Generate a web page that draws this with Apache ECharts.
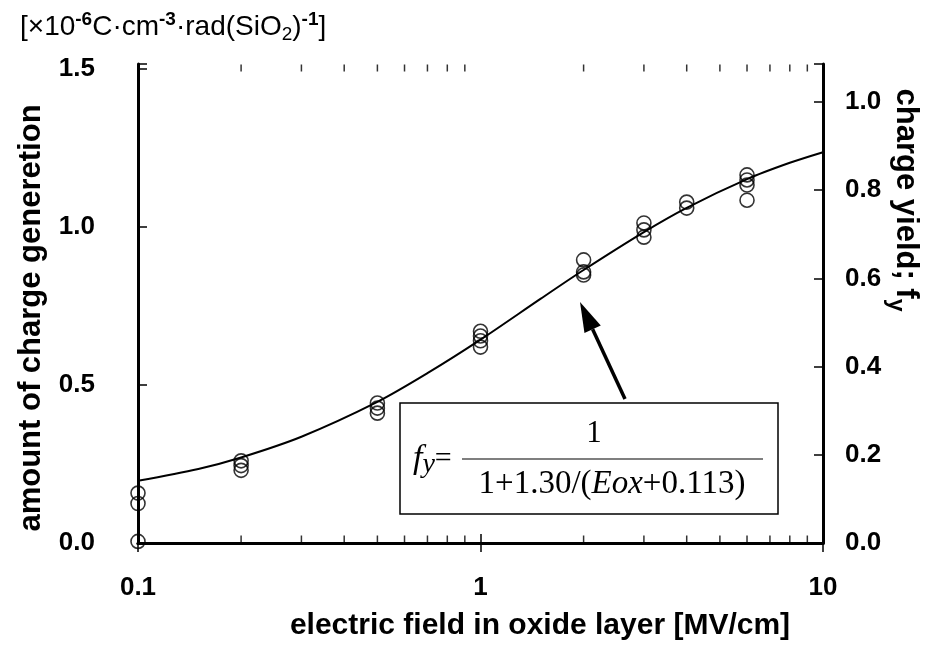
<!DOCTYPE html>
<html>
<head>
<meta charset="utf-8">
<script src="https://cdn.jsdelivr.net/npm/echarts@6/dist/echarts.min.js"></script>
<style>
  html, body { margin: 0; padding: 0; background: #fff; }
  #chart { width: 936px; height: 652px; }
</style>
</head>
<body>
<div id="chart"></div>
<script>
  // measured points: electric field [MV/cm] and charge generation [x1e-6]
  const fieldX = [0.1, 0.1, 0.1, 0.2, 0.2, 0.2, 0.5, 0.5, 0.5, 1, 1, 1, 1, 2, 2, 2, 3, 3, 3, 4, 4, 6, 6, 6, 6]
  const chargeY = [0.158, 0.125, 0.005, 0.26, 0.245, 0.23, 0.443, 0.427, 0.411, 0.67, 0.655, 0.64, 0.62,
    0.896, 0.858, 0.848, 1.013, 0.991, 0.968, 1.079, 1.06, 1.165, 1.149, 1.133, 1.085]

  // fitted curve, read against the right axis (charge yield f_y)
  const curveX = [0.1, 0.15, 0.2, 0.3, 0.5, 0.7, 1, 1.5, 2, 3, 4, 6, 8, 10]
  const curveY = [0.141, 0.168, 0.194, 0.241, 0.32, 0.385, 0.461, 0.554, 0.619, 0.705, 0.76, 0.825, 0.862, 0.886]

  // log minor ticks on the x axis
  const minorTicks = [0.2, 0.3, 0.4, 0.5, 0.6, 0.7, 0.8, 0.9, 2, 3, 4, 5, 6, 7, 8, 9]

  const leftTicks = ['0.0', '0.5', '1.0', '1.5']
  const rightTicks = ['0.0', '0.2', '0.4', '0.6', '0.8', '1.0']
  const xTicks = ['0.1', '1', '10']

  const LEFT_MAX = 1.516
  const RIGHT_MAX = 1.086

  const sans = '"Liberation Sans", Arial, Helvetica, sans-serif'
  const serif = '"Liberation Serif", "Times New Roman", serif'

  const chart = echarts.init(document.getElementById('chart'))

  // label only the ticks that are in the list
  const pickLabel = list => v => {
    const hit = list.find(t => Math.abs(parseFloat(t) - v) < 1e-6)
    return hit || ''
  }

  // arrow (annotation) in pixels
  const tip = [580, 302]
  const tail = [625, 399]
  const dx = tip[0] - tail[0]
  const dy = tip[1] - tail[1]
  const len = Math.sqrt(dx * dx + dy * dy)
  const ux = dx / len
  const uy = dy / len
  const headLen = 30
  const headHalf = 9
  const base = [tip[0] - ux * headLen, tip[1] - uy * headLen]

  const tickStyle = { show: true, inside: true, length: 9, lineStyle: { color: '#000', width: 1.5 } }
  const labelStyle = { color: '#000', fontFamily: sans, fontWeight: 'bold', fontSize: 26 }

  chart.setOption({
    animation: false,
    backgroundColor: '#fff',
    grid: { left: 138, right: 113, top: 64, bottom: 109, containLabel: false, outerBoundsMode: 'none' },
    xAxis: [
      {
        type: 'log',
        logBase: 10,
        min: 0.1,
        max: 10,
        axisLine: { show: true, lineStyle: { color: '#000', width: 3 } },
        axisTick: tickStyle,
        splitLine: { show: false },
        axisLabel: { ...labelStyle, margin: 32, formatter: pickLabel(xTicks), showMinLabel: true, showMaxLabel: true }
      },
      {
        type: 'log',
        logBase: 10,
        min: 0.1,
        max: 10,
        position: 'top',
        axisLine: { show: true, lineStyle: { color: '#000', width: 3 } },
        axisTick: tickStyle,
        splitLine: { show: false },
        axisLabel: { show: false }
      }
    ],
    yAxis: [
      {
        type: 'value',
        min: 0,
        max: LEFT_MAX,
        interval: 0.5,
        position: 'left',
        axisLine: { show: true, lineStyle: { color: '#000', width: 3 } },
        axisTick: tickStyle,
        splitLine: { show: false },
        axisLabel: { ...labelStyle, margin: 43, formatter: pickLabel(leftTicks) }
      },
      {
        type: 'value',
        min: 0,
        max: RIGHT_MAX,
        interval: 0.2,
        position: 'right',
        axisLine: { show: true, lineStyle: { color: '#000', width: 3 } },
        axisTick: tickStyle,
        splitLine: { show: false },
        axisLabel: { ...labelStyle, margin: 22, formatter: pickLabel(rightTicks) }
      }
    ],
    series: [
      {
        name: 'fit',
        type: 'line',
        xAxisIndex: 0,
        yAxisIndex: 1,
        smooth: 0.3,
        symbol: 'none',
        lineStyle: { color: '#000', width: 2 },
        data: curveX.map((x, i) => [x, curveY[i]])
      },
      {
        name: 'measured',
        type: 'scatter',
        xAxisIndex: 0,
        yAxisIndex: 0,
        symbol: 'circle',
        symbolSize: 14,
        clip: false,
        itemStyle: { color: 'rgba(0,0,0,0)', borderColor: '#000', borderWidth: 1.6 },
        data: fieldX.map((x, i) => [x, chargeY[i]])
      },
      {
        name: 'minor-bottom',
        type: 'scatter',
        silent: true,
        symbol: 'rect',
        symbolSize: [1.5, 7],
        symbolOffset: [0, -4],
        itemStyle: { color: '#000' },
        data: minorTicks.map(x => [x, 0])
      },
      {
        name: 'minor-top',
        type: 'scatter',
        silent: true,
        symbol: 'rect',
        symbolSize: [1.5, 7],
        symbolOffset: [0, 4],
        itemStyle: { color: '#000' },
        data: minorTicks.map(x => [x, LEFT_MAX])
      }
    ],
    graphic: [
      // 单位
      {
        type: 'text',
        x: 20,
        y: 27,
        style: {
          text: '[×10{sup|-6}C·cm{sup|-3}·rad(SiO{sub|2}){sup|-1}]',
          font: '28px ' + sans,
          fill: '#000',
          textVerticalAlign: 'middle',
          rich: {
            sup: { fontSize: 19, fontFamily: sans, fontWeight: 'bold', verticalAlign: 'top', lineHeight: 34 },
            sub: { fontSize: 19, fontFamily: sans, verticalAlign: 'bottom', lineHeight: 34 }
          }
        }
      },
      // 左轴标题
      {
        type: 'text',
        x: 31,
        y: 318,
        rotation: Math.PI / 2,
        style: {
          text: 'amount of charge generetion',
          font: 'bold 31px ' + sans,
          fill: '#000',
          textAlign: 'center',
          textVerticalAlign: 'middle'
        }
      },
      // 右轴标题
      {
        type: 'text',
        x: 906,
        y: 200,
        rotation: -Math.PI / 2,
        style: {
          text: 'charge yield; f{sub|y}',
          font: 'bold 31px ' + sans,
          fill: '#000',
          textAlign: 'center',
          textVerticalAlign: 'middle',
          rich: {
            sub: { fontSize: 23, fontFamily: sans, fontWeight: 'bold', verticalAlign: 'bottom', lineHeight: 44 }
          }
        }
      },
      // x轴标题
      {
        type: 'text',
        x: 540,
        y: 626,
        style: {
          text: 'electric field in oxide layer [MV/cm]',
          font: 'bold 30px ' + sans,
          fill: '#000',
          textAlign: 'center',
          textVerticalAlign: 'middle'
        }
      },
      // 箭头
      {
        type: 'line',
        shape: { x1: tail[0], y1: tail[1], x2: base[0], y2: base[1] },
        style: { stroke: '#000', lineWidth: 3.5 },
        z: 20
      },
      {
        type: 'polygon',
        shape: {
          points: [
            tip,
            [base[0] - uy * headHalf, base[1] + ux * headHalf],
            [base[0] + uy * headHalf, base[1] - ux * headHalf]
          ]
        },
        style: { fill: '#000' },
        z: 20
      },
      // 公式框
      {
        type: 'rect',
        shape: { x: 400, y: 403, width: 378, height: 111 },
        style: { fill: '#fff', stroke: '#000', lineWidth: 1.5 },
        z: 20
      },
      {
        type: 'text',
        x: 413,
        y: 459,
        z: 21,
        style: {
          text: '{f|f}{s|y}{e|=}',
          fill: '#000',
          textVerticalAlign: 'middle',
          rich: {
            f: { fontFamily: serif, fontStyle: 'italic', fontSize: 34, lineHeight: 40 },
            s: { fontFamily: serif, fontStyle: 'italic', fontSize: 28, verticalAlign: 'bottom', lineHeight: 40 },
            e: { fontFamily: serif, fontSize: 30, lineHeight: 40 }
          }
        }
      },
      {
        type: 'line',
        shape: { x1: 462, y1: 459, x2: 763, y2: 459 },
        style: { stroke: '#000', lineWidth: 1.2 },
        z: 21
      },
      {
        type: 'text',
        x: 594,
        y: 434,
        z: 21,
        style: {
          text: '1',
          font: '31px ' + serif,
          fill: '#000',
          textAlign: 'center',
          textVerticalAlign: 'middle'
        }
      },
      {
        type: 'text',
        x: 612,
        y: 484,
        z: 21,
        style: {
          text: '1+1.30/({i|Eox}+0.113)',
          font: '33px ' + serif,
          fill: '#000',
          textAlign: 'center',
          textVerticalAlign: 'middle',
          rich: {
            i: { fontFamily: serif, fontStyle: 'italic', fontSize: 33 }
          }
        }
      }
    ]
  })
</script>
</body>
</html>
